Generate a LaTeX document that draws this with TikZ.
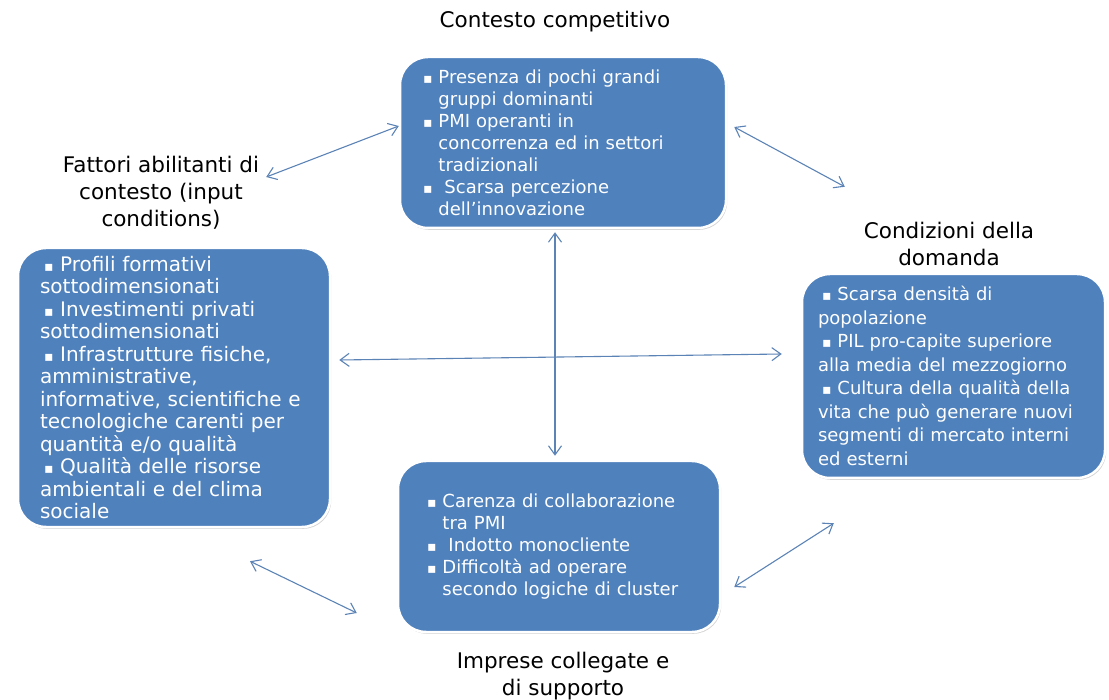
\documentclass[tikz,border=0pt]{standalone}
\usepackage{fontspec}
\setmainfont{DejaVu Sans}
\usetikzlibrary{arrows.meta,shadows}
\definecolor{boxblue}{HTML}{4F81BD}
\definecolor{arrowblue}{HTML}{5B83B5}
\newcommand{\sq}{{\fontsize{14}{14}\selectfont▪}}
\newcommand{\bul}{\sq\ }
\newcommand{\ind}{\hphantom{\sq\ }}
\newcommand{\lbul}{\hspace*{4pt}\sq\ }
\tikzset{
  box/.style={draw=white, line width=2.5pt, fill=boxblue, rounded corners=28pt,
    text=white, align=left,
    drop shadow={shadow xshift=1.2pt, shadow yshift=-1.8pt, opacity=0.35}},
  lab/.style={align=center, inner sep=0pt, font=\fontsize{21.5}{27}\selectfont}
}
\begin{document}
\begin{tikzpicture}[x=1pt, y=-1pt, >={Straight Barb[length=9pt,width=13pt]}]
  \useasboundingbox (0,0) rectangle (1109,700);
  \draw
    (563,142.5) node[box, minimum width=326pt, minimum height=171pt,
      text width=280pt, inner xsep=23pt, font=\fontsize{18}{22}\selectfont] (comp)
      {\bul Presenza di pochi grandi\\ \ind gruppi dominanti\\
       \bul PMI operanti in\\ \ind concorrenza ed in settori\\ \ind tradizionali\\
       \sq\ \ Scarsa percezione\\ \ind dell’innovazione}
    (174,387.5) node[box, minimum width=312pt, minimum height=279pt,
      text width=268pt, inner xsep=22pt, font=\fontsize{20}{22.5}\selectfont] (input)
      {\lbul Profili formativi\\ sottodimensionati\\
       \lbul Investimenti privati\\ sottodimensionati\\
       \lbul Infrastrutture fisiche,\\ amministrative,\\ informative, scientifiche e\\
       tecnologiche carenti per\\ quantità e/o qualità\\
       \lbul Qualità delle risorse\\ ambientali e del clima\\ sociale}
    (953.5,376) node[box, minimum width=303pt, minimum height=204pt,
      text width=271pt, inner xsep=16pt, font=\fontsize{18}{23.5}\selectfont] (dom)
      {\lbul Scarsa densità di\\ popolazione\\
       \lbul PIL pro-capite superiore\\ alla media del mezzogiorno\\
       \lbul Cultura della qualità della\\ vita che può generare nuovi\\
       segmenti di mercato interni\\ ed esterni}
    (559,546.5) node[box, minimum width=322pt, minimum height=171pt,
      text width=264pt, inner xsep=29pt, font=\fontsize{18}{22}\selectfont] (imp)
      {\bul Carenza di collaborazione\\ \ind tra PMI\\
       \sq\ \ Indotto monocliente\\
       \bul Difficoltà ad operare\\ \ind secondo logiche di cluster};
  % titles
  \draw
    (555,22) node[lab] (compl) {Contesto competitivo}
    (161,193) node[lab] (inputl) {Fattori abilitanti di\\ contesto (input\\ conditions)}
    (949,243.5) node[lab] (doml) {Condizioni della\\ domanda}
    (563,676) node[lab] (impl) {Imprese collegate e\\ di supporto};
  \begin{scope}[<->, draw=arrowblue, line width=1.1pt]
    \draw ([xshift=7pt,yshift=16pt]inputl.east) -- ([yshift=16.5pt]comp.west);
    \draw ([xshift=7pt,yshift=15.5pt]comp.east) -- ([xshift=44pt,yshift=86pt]dom.north west);
    \draw ([xshift=-8pt,yshift=-3pt]comp.south) -- ([xshift=-4pt,yshift=4pt]imp.north);
    \draw ([xshift=8pt,yshift=27.5pt]input.east) -- ([xshift=-19pt,yshift=22pt]dom.west);
    \draw ([xshift=76pt,yshift=-33pt]input.south) -- ([xshift=-40pt,yshift=-66.5pt]imp.west);
    \draw ([xshift=13pt,yshift=-40.5pt]imp.east) -- ([xshift=33pt,yshift=-44pt]dom.south west);
  \end{scope}
\end{tikzpicture}
\end{document}
